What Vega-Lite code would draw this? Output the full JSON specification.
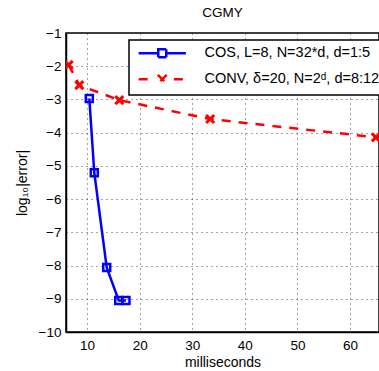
{
  "$schema": "https://vega.github.io/schema/vega-lite/v6.json",
  "autosize": "none",
  "width": 313,
  "height": 299,
  "padding": {"left": 66, "top": 33, "right": 0, "bottom": 39},
  "background": "white",
  "title": {"text": "CGMY", "font": "Liberation Sans", "fontSize": 13.5, "fontWeight": "normal", "offset": 7, "color": "black"},
  "config": {
    "view": {"stroke": "black", "strokeWidth": 1.5},
    "axis": {
      "labelFont": "Liberation Sans", "labelFontSize": 13.5, "labelColor": "black",
      "titleFont": "Liberation Sans", "titleFontSize": 14, "titleFontWeight": "normal", "titleColor": "black",
      "domainColor": "black", "domainWidth": 1.5, "ticks": false,
      "grid": true, "gridColor": "#333", "gridDash": [1, 4], "gridWidth": 1, "gridOpacity": 0.9
    }
  },
  "data": {"values": [
    {"series": "COS", "ms": 10.43, "err": -2.97},
    {"series": "COS", "ms": 11.38, "err": -5.21},
    {"series": "COS", "ms": 13.74, "err": -8.06},
    {"series": "COS", "ms": 16.02, "err": -9.05},
    {"series": "COS", "ms": 17.4, "err": -9.05},
    {"series": "CONV", "ms": 6.51, "err": -1.96},
    {"series": "CONV", "ms": 8.53, "err": -2.57},
    {"series": "CONV", "ms": 16.13, "err": -3.02},
    {"series": "CONV", "ms": 33.4, "err": -3.59},
    {"series": "CONV", "ms": 64.9, "err": -4.14}
  ]},
  "encoding": {
    "x": {"field": "ms", "type": "quantitative", "scale": {"domain": [6, 65.5], "nice": false, "zero": false},
          "axis": {"values": [10, 20, 30, 40, 50, 60], "title": "milliseconds", "labelPadding": 6, "titlePadding": 4}},
    "y": {"field": "err", "type": "quantitative", "scale": {"domain": [-10, -1], "nice": false, "zero": false},
          "axis": {"values": [-10, -9, -8, -7, -6, -5, -4, -3, -2, -1], "title": "log₁₀|error|", "labelPadding": 5, "titlePadding": 9}}
  },
  "layer": [
    {
      "mark": {"type": "line", "strokeWidth": 2.5, "clip": true},
      "encoding": {
        "color": {"field": "series", "type": "nominal",
          "scale": {"domain": ["COS", "CONV"], "range": ["#0000ff", "#ff0000"]},
          "legend": {
            "title": null, "orient": "none", "legendX": 63, "legendY": 7,
            "strokeColor": "black", "fillColor": "white",
            "padding": 6, "symbolSize": 64, "symbolStrokeWidth": 2.5,
            "symbolOffset": 20, "labelOffset": 35, "rowPadding": 6, "labelLimit": 400,
            "labelFont": "Liberation Sans", "labelFontSize": 14.5, "labelColor": "black",
            "labelExpr": "datum.value === 'COS' ? 'COS, L=8, N=32*d, d=1:5' : 'CONV, δ=20, N=2ᵈ, d=8:12'",
            "encode": {
              "legend": {"update": {"strokeWidth": {"value": 1.5}}},
              "symbols": {"update": {
                "shape": {"signal": "datum.value === 'COS' ? 'M-5.9,0H-1M1,0H5.9M-1,-1H1V1H-1Z' : 'M-5.9,0H-2.9M2.9,0H5.9M-1.1,-1.1L1.1,1.1M1.1,-1.1L-1.1,1.1'"},
                "fill": {"value": "transparent"},
                "strokeWidth": {"value": 2.5}
              }}
            }
          }},
        "strokeDash": {"field": "series", "type": "nominal",
          "scale": {"domain": ["COS", "CONV"], "range": [[1, 0], [9, 8]]}, "legend": null}
      }
    },
    {
      "transform": [{"filter": "datum.series === 'COS'"}],
      "mark": {"type": "point", "shape": "square", "filled": false, "color": "#0000ff", "strokeWidth": 2.5, "size": 49, "opacity": 1, "clip": true}
    },
    {
      "transform": [{"filter": "datum.series === 'CONV'"}],
      "mark": {"type": "point", "shape": "M-1,-1L1,1M1,-1L-1,1", "filled": false, "color": "#ff0000", "strokeWidth": 3, "size": 64, "opacity": 1, "clip": true}
    }
  ]
}
